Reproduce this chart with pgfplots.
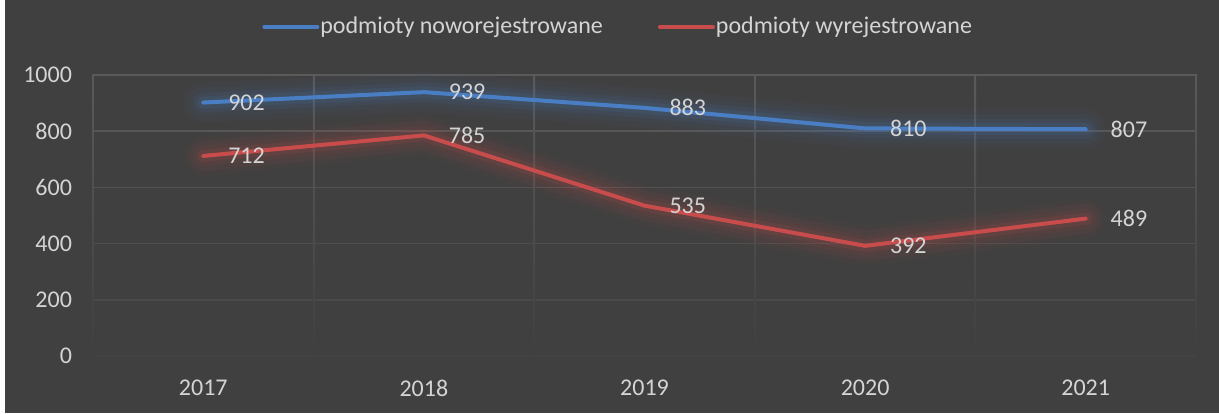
\documentclass[border=0pt]{standalone}
\usepackage{pgfplots}
\pgfplotsset{compat=1.18}
\usepackage{fontspec}
\setmainfont{Carlito}

\definecolor{bg}{HTML}{404040}
\definecolor{txt}{HTML}{D4D4D4}
\definecolor{gridc}{HTML}{5A5A5A}
\definecolor{blueln}{HTML}{4A7EC4}
\definecolor{redln}{HTML}{C84C4C}

% glow passes under each line
\pgfplotsset{
  glow/.style={no marks, line join=round, line cap=round, forget plot},
}

\begin{document}
\begin{tikzpicture}
  % background, 1px = 0.5pt
  \fill[white] (-46.5pt,-28.5pt) rectangle (563pt,178pt);
  \fill[bg] (-44pt,-28.5pt) rectangle (563pt,178pt);
  \begin{axis}[
      at={(0pt,0pt)}, anchor=south west,
      width=551.5pt, height=140.5pt, scale only axis,
      xmin=-0.5, xmax=4.5, ymin=0, ymax=1000,
      axis line style={draw=none},
      xtick={0,1,2,3,4},
      xticklabels={2017,2018,2019,2020,2021},
      ytick={0,200,400,600,800,1000},
      major tick length=0pt,
      /pgf/number format/assume math mode=true,
      /pgf/number format/set thousands separator={},
      tick label style={font=\fontsize{12}{14}\selectfont, text=txt},
      yticklabel style={xshift=-7pt},
      xticklabel style={yshift=-8.5pt},
      legend style={
        at={(0.477,1.171)}, anchor=center,
        draw=none, fill=none, text=txt,
        font=\fontsize{12}{14}\selectfont,
        legend columns=2,
        /tikz/every even column/.append style={column sep=25.5pt},
        /tikz/every odd column/.append style={column sep=-1.5pt},
        inner sep=0pt,
      },
      legend image code/.code={
        \draw[#1, line width=2pt] (0pt,0pt) -- (26.5pt,0pt);
      },
      clip=false,
    ]
    % horizontal grid, fading downwards
    \draw[gridc, line width=0.8pt] (axis cs:-0.5,1000) -- (axis cs:4.5,1000);
    \draw[gridc!90!bg, line width=0.8pt] (axis cs:-0.5,800) -- (axis cs:4.5,800);
    \draw[gridc!75!bg, line width=0.8pt] (axis cs:-0.5,600) -- (axis cs:4.5,600);
    \draw[gridc!58!bg, line width=0.8pt] (axis cs:-0.5,400) -- (axis cs:4.5,400);
    \draw[gridc!40!bg, line width=0.8pt] (axis cs:-0.5,200) -- (axis cs:4.5,200);
    \draw[gridc!12!bg, line width=0.8pt] (axis cs:-0.5,0) -- (axis cs:4.5,0);
    % vertical grid
    \shade[top color=gridc, bottom color=bg] ([xshift=-0.4pt]axis cs:-0.5,0) rectangle ([xshift=0.4pt]axis cs:-0.5,1000);
    \shade[top color=gridc, bottom color=bg] ([xshift=-0.4pt]axis cs:0.5,0) rectangle ([xshift=0.4pt]axis cs:0.5,1000);
    \shade[top color=gridc, bottom color=bg] ([xshift=-0.4pt]axis cs:1.5,0) rectangle ([xshift=0.4pt]axis cs:1.5,1000);
    \shade[top color=gridc, bottom color=bg] ([xshift=-0.4pt]axis cs:2.5,0) rectangle ([xshift=0.4pt]axis cs:2.5,1000);
    \shade[top color=gridc, bottom color=bg] ([xshift=-0.4pt]axis cs:3.5,0) rectangle ([xshift=0.4pt]axis cs:3.5,1000);
    \shade[top color=gridc, bottom color=bg] ([xshift=-0.4pt]axis cs:4.5,0) rectangle ([xshift=0.4pt]axis cs:4.5,1000);

    % glow
    \addplot[glow, blueln, line width=20pt, opacity=0.04] coordinates {(0,902) (1,939) (2,883) (3,810) (4,807)};
    \addplot[glow, blueln, line width=15pt, opacity=0.06] coordinates {(0,902) (1,939) (2,883) (3,810) (4,807)};
    \addplot[glow, blueln, line width=10pt, opacity=0.08] coordinates {(0,902) (1,939) (2,883) (3,810) (4,807)};
    \addplot[glow, blueln, line width=6pt, opacity=0.12] coordinates {(0,902) (1,939) (2,883) (3,810) (4,807)};
    \addplot[glow, redln, line width=20pt, opacity=0.04] coordinates {(0,712) (1,785) (2,535) (3,392) (4,489)};
    \addplot[glow, redln, line width=15pt, opacity=0.06] coordinates {(0,712) (1,785) (2,535) (3,392) (4,489)};
    \addplot[glow, redln, line width=10pt, opacity=0.08] coordinates {(0,712) (1,785) (2,535) (3,392) (4,489)};
    \addplot[glow, redln, line width=6pt, opacity=0.12] coordinates {(0,712) (1,785) (2,535) (3,392) (4,489)};

    % series
    \addplot[blueln, line width=2pt, line join=round, line cap=round, no marks,
      nodes near coords, every node near coord/.append style={
        anchor=west, inner sep=0pt, xshift=11.5pt, text=txt,
        font=\fontsize{12}{14}\selectfont}]
      coordinates {(0,902) (1,939) (2,883) (3,810) (4,807)};
    \addlegendentry{podmioty noworejestrowane}
    \addplot[redln, line width=2pt, line join=round, line cap=round, no marks,
      nodes near coords, every node near coord/.append style={
        anchor=west, inner sep=0pt, xshift=11.5pt, text=txt,
        font=\fontsize{12}{14}\selectfont}]
      coordinates {(0,712) (1,785) (2,535) (3,392) (4,489)};
    \addlegendentry{podmioty wyrejestrowane}
  \end{axis}
\end{tikzpicture}
\end{document}
